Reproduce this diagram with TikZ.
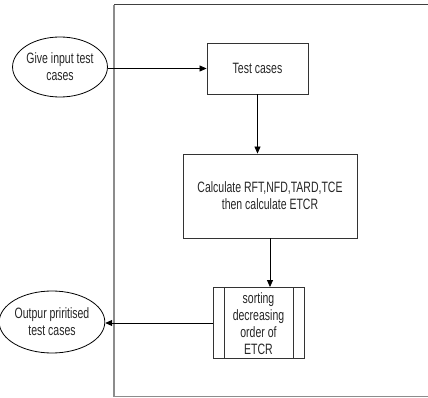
\documentclass[tikz,border=0pt]{standalone}
\usepackage{fontspec}
\setmainfont[FakeStretch=0.7]{Liberation Sans}
\usetikzlibrary{shapes.geometric,arrows.meta}
\tikzset{
  txt/.style={font=\fontsize{15pt}{17pt}\selectfont, align=center, text=black!85},
  oval/.style={ellipse, draw=black, line width=0.8pt, txt, inner sep=0pt},
  procbox/.style={rectangle, draw=black!80, line width=0.9pt, txt, inner sep=0pt},
  flow/.style={draw=black, line width=0.8pt, -{Triangle[length=7pt,width=6pt]}},
}
\begin{document}
\begin{tikzpicture}[x=1pt,y=-1pt]
\useasboundingbox (0,0) rectangle (428,398);
% frame
\draw[black!75, line width=1pt] (114,5) -- (428,5);
\draw[black!45, line width=1.2pt] (114,5) -- (114,396.5) -- (428,396.5);
% nodes
\node[oval, minimum width=90pt, minimum height=60pt] (in) at (60,67) {Give input test\\cases};
\node[procbox, minimum width=101pt, minimum height=51pt] (tc) at (257.5,68.5) {Test cases};
\node[procbox, minimum width=174pt, minimum height=84pt] (calc) at (270,196) {Calculate RFT,NFD,TARD,TCE\\then calculate ETCR};
\node[procbox, minimum width=91pt, minimum height=71pt] (sort) at (258.5,323) {};
\node[txt] (sorttxt) at (258.5,323.5) {sorting\\decreasing\\order of\\ETCR};
\draw[black!80, line width=0.9pt] ([xshift=12pt]sort.north west) -- ([xshift=12pt]sort.south west);
\draw[black!80, line width=0.9pt] ([xshift=-11pt]sort.north east) -- ([xshift=-11pt]sort.south east);
\node[oval, minimum width=90pt, minimum height=62pt] (out) at (52,322) {Outpur priritised\\test cases};
% connectors
\draw[flow] (in.east |- tc.west) -- (tc.west);
\draw[flow] (tc.south) -- (tc.south |- calc.north);
\draw[flow] (calc.south) -- (calc.south |- sort.north);
\draw[flow] (sort.west) -- (sort.west -| out.east);
\end{tikzpicture}
\end{document}
